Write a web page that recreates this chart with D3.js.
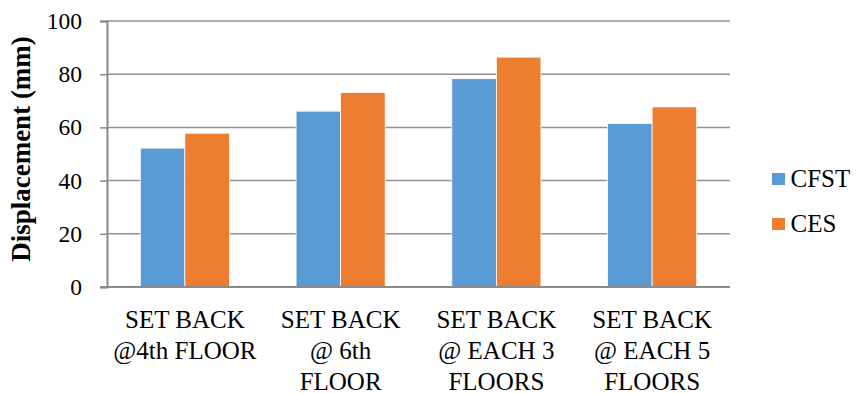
<!DOCTYPE html>
<html>
<head>
<meta charset="utf-8">
<script src="https://cdn.jsdelivr.net/npm/d3@7"></script>
<style>
  html, body { margin: 0; padding: 0; background: #fff; }
</style>
</head>
<body>
<svg id="chart" width="857" height="394"></svg>
<script>
// Roof displacement for each set-back configuration
const categories = [
  ["SET BACK", "@4th FLOOR"],
  ["SET BACK", "@ 6th", "FLOOR"],
  ["SET BACK", "@ EACH 3", "FLOORS"],
  ["SET BACK", "@ EACH 5", "FLOORS"]
];
const seriesNames = ["CFST", "CES"];
const cfstValues = [52.2, 66.1, 78.3, 61.5];
const cesValues = [57.8, 73.1, 86.4, 67.7];
const yTicks = [0, 20, 40, 60, 80, 100];
const colors = ["#5B9BD5", "#ED7D31"];

const FONT = "'Liberation Serif', 'Times New Roman', serif";

const svg = d3.select("#chart");
const margin = { left: 107, right: 127, top: 21, bottom: 107 };
const W = 857, H = 394;
const x0 = margin.left, x1 = W - margin.right;
const yTop = margin.top, yBot = H - margin.bottom;

const keys = categories.map((c, i) => i);
const x = d3.scaleBand().domain(keys).range([x0, x1]).paddingInner(0).paddingOuter(0);
const y = d3.scaleLinear().domain([0, 100]).range([yBot, yTop]);
const barW = x.bandwidth() * 0.286;

// Gridlines
svg.append("g").selectAll("line").data(yTicks.filter(t => t > 0)).join("line")
  .attr("x1", x0).attr("x2", x1)
  .attr("y1", d => y(d)).attr("y2", d => y(d))
  .attr("stroke", "#929292").attr("stroke-width", 1.5);

// Bars
const series = [cfstValues, cesValues];
series.forEach((vals, s) => {
  svg.append("g").selectAll("rect").data(vals).join("rect")
    .attr("x", (d, i) => x(i) + x.bandwidth() / 2 - barW + s * barW)
    .attr("y", d => y(d))
    .attr("width", barW)
    .attr("height", d => y(0) - y(d))
    .attr("fill", colors[s])
    .attr("stroke", "#fff").attr("stroke-width", 0.75);
});

// Y axis
const yAxis = d3.axisLeft(y).tickValues(yTicks).tickSize(7).tickPadding(18);
const gy = svg.append("g").attr("transform", `translate(${x0},0)`).call(yAxis);
gy.select(".domain").attr("stroke", "#8a8a8a").attr("stroke-width", 2);
gy.selectAll(".tick line").attr("stroke", "#8a8a8a").attr("stroke-width", 1.5);
gy.selectAll(".tick text").attr("fill", "#000")
  .style("font-family", FONT).style("font-size", "23.5px");

// X axis baseline
svg.append("line").attr("x1", x0 - 7).attr("x2", x1)
  .attr("y1", yBot).attr("y2", yBot)
  .attr("stroke", "#8a8a8a").attr("stroke-width", 2);

// Category labels
const xl = svg.append("g").selectAll("text").data(categories).join("text")
  .attr("text-anchor", "middle").style("font-family", FONT).style("font-size", "25px")
  .attr("x", (d, i) => x(i) + x.bandwidth() / 2)
  .attr("y", 327.5);
xl.selectAll("tspan").data(d => d).join("tspan")
  .attr("x", function() { return this.parentNode.getAttribute("x"); })
  .attr("dy", (d, j) => j === 0 ? 0 : 31)
  .text(d => d);

// Y axis title
svg.append("text")
  .attr("transform", `translate(30,149) rotate(-90)`)
  .attr("text-anchor", "middle").style("font-family", FONT).style("font-size", "27px")
  .style("font-weight", "bold")
  .text("Displacement (mm)");

// Legend
const lg = svg.append("g").selectAll("g").data(seriesNames).join("g")
  .attr("transform", (d, i) => `translate(772,${173 + i * 45})`);
lg.append("rect").attr("width", 13).attr("height", 12).attr("fill", (d, i) => colors[i]);
lg.append("text").attr("x", 18.5).attr("y", 13.7)
  .style("font-family", FONT).style("font-size", "25px").text(d => d);
</script>
</body>
</html>
